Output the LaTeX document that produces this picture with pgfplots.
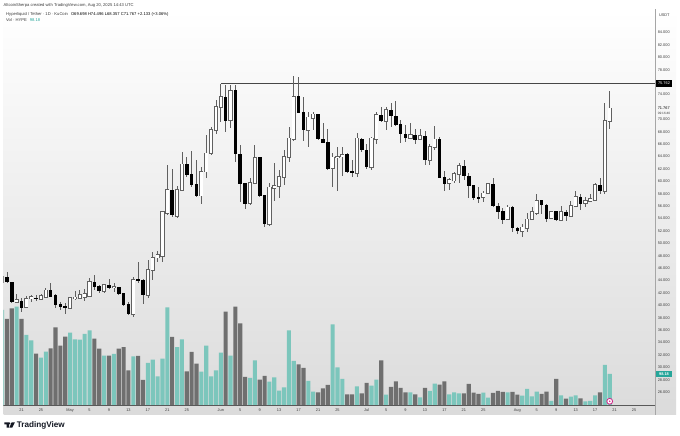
\documentclass[border=0pt]{standalone}
\usepackage{pgfplots}
\usepackage{pgfplotstable}
\usepackage{fontspec}
\setmainfont{Liberation Sans}
\pgfplotsset{compat=1.18}
\definecolor{tkgray}{HTML}{6F6F6F}
\definecolor{tkteal}{HTML}{7CC6BC}
\definecolor{tagteal}{HTML}{26A69A}
\definecolor{txt}{HTML}{3C3C3C}
\definecolor{pnl}{HTML}{DBDBDB}
\definecolor{wick}{HTML}{606060}
\definecolor{tvk}{HTML}{131722}
\newcommand{\fs}{\fontsize{3.9}{4.5}\selectfont}
\newcommand{\fh}{\fontsize{4.15}{4.8}\selectfont}
% d = days after 21 April 2025; o h l c in USDT; v in millions of HYPE
\pgfplotstableread{
d o h l c v
-4 43.76 44.56 43.27 44.56 296.3
-3 44.56 45.37 43.60 43.76 268.4
-2 43.76 43.76 40.37 40.53 301.2
-1 40.58 41.77 40.53 40.85 306.5
0 40.58 41.17 38.92 39.67 268.4
1 39.67 41.55 39.56 41.01 218.9
2 41.20 41.71 40.58 41.30 202.2
3 41.20 41.66 40.74 41.05 161.0
4 41.01 41.82 40.85 41.50 148.6
5 41.29 42.79 41.17 42.39 167.2
6 42.47 43.55 41.26 41.39 177.4
7 41.66 41.82 39.56 40.05 242.4
8 40.16 40.58 39.24 39.77 185.8
9 39.88 40.37 38.60 39.61 213.6
10 39.61 41.17 39.56 41.13 226.0
11 41.13 42.30 40.85 41.26 205.3
12 41.13 42.47 41.01 41.66 204.3
13 41.29 42.63 40.69 41.82 222.0
14 41.55 44.45 41.50 43.71 233.1
15 43.64 44.88 42.47 43.00 207.4
16 43.00 43.27 41.98 42.35 176.5
17 42.35 43.43 41.93 43.27 154.8
18 43.16 44.24 42.63 42.84 154.8
19 42.87 43.59 42.19 42.95 160.1
20 42.84 42.95 41.66 41.93 176.5
21 41.93 41.98 39.93 40.16 181.7
22 40.16 40.53 38.43 38.71 109.3
23 38.60 44.61 38.16 44.08 152.6
24 44.16 46.98 43.59 43.92 153.9
25 44.08 44.24 40.21 41.77 79.6
26 41.66 47.30 41.22 45.69 132.2
27 45.69 48.64 44.08 47.68 142.4
28 47.68 48.76 46.98 48.11 90.7
29 47.95 55.21 47.03 55.09 145.5
30 54.84 62.63 54.56 58.60 304.3
31 58.60 61.98 54.29 54.56 212.7
32 54.45 59.24 54.13 58.60 181.7
33 58.60 64.68 58.52 62.74 205.3
34 62.74 63.97 60.74 61.13 106.2
35 61.13 64.88 59.13 59.51 166.3
36 59.56 63.43 57.42 57.68 130.0
37 57.68 62.30 56.29 61.55 105.3
38 61.55 67.47 60.48 64.51 185.8
39 64.51 68.80 64.24 68.27 90.7
40 68.27 73.11 67.63 72.03 109.3
41 72.03 75.64 69.61 73.64 164.1
42 73.55 75.53 67.95 69.77 291.0
43 69.88 75.53 68.60 74.61 154.8
44 74.61 75.53 63.06 64.40 306.5
45 64.35 65.85 56.61 59.68 254.8
46 59.68 59.72 55.48 56.45 88.9
47 56.45 60.53 56.18 59.68 85.8
48 59.68 65.85 59.56 63.80 140.2
49 63.80 63.92 57.51 57.68 80.5
50 57.79 57.87 52.63 53.22 92.0
51 53.11 59.72 52.79 59.03 74.3
52 58.92 62.90 56.87 59.29 87.6
53 59.29 61.82 57.30 60.74 46.4
54 60.64 65.05 59.40 63.97 56.7
55 63.87 68.71 63.16 66.93 233.1
56 66.82 76.98 66.55 73.64 138.4
57 73.64 76.77 70.97 71.13 127.9
58 71.13 73.64 66.55 68.27 116.7
59 68.27 71.22 65.58 70.32 76.5
60 70.16 71.22 68.27 70.80 43.3
61 70.80 70.85 66.66 66.82 41.2
62 66.82 69.45 66.13 66.22 53.6
63 66.22 68.43 61.82 62.09 64.1
64 62.09 64.51 59.03 63.87 251.7
65 63.92 65.48 58.48 64.00 118.6
66 63.97 65.48 60.85 64.29 82.7
67 64.29 64.61 61.39 61.55 35.0
68 61.66 63.43 60.64 61.39 35.0
69 61.29 67.74 60.74 66.93 59.8
70 66.82 66.93 64.77 65.05 38.1
71 65.05 66.01 61.98 62.35 70.3
72 62.26 67.19 61.82 66.93 61.9
73 66.82 71.22 66.01 70.69 80.5
74 70.69 72.03 69.61 69.77 140.2
75 69.77 72.03 68.27 71.50 34.1
76 71.39 72.58 68.71 70.53 57.9
77 70.53 73.00 68.92 69.19 75.2
78 69.19 69.88 66.22 67.63 54.8
79 67.63 69.08 66.39 67.03 41.2
80 67.03 69.35 66.77 67.47 41.2
81 67.47 68.38 66.01 66.77 35.0
82 66.77 68.38 66.66 67.30 25.7
83 67.30 68.16 62.63 63.43 54.8
84 63.43 66.01 62.63 65.58 45.5
85 65.48 68.97 65.05 66.77 68.1
86 66.77 67.19 60.48 60.64 65.0
87 60.64 61.71 58.48 59.68 75.2
88 59.68 60.53 58.60 60.21 35.0
89 60.10 61.55 59.72 61.18 41.2
90 61.18 62.90 59.72 62.47 38.1
91 62.47 63.43 60.21 60.85 38.1
92 60.85 61.29 57.26 59.29 67.2
93 59.29 59.40 56.98 57.42 40.2
94 57.38 59.13 56.45 57.30 36.2
95 57.42 58.48 56.71 58.06 40.2
96 58.06 59.77 57.95 59.56 24.8
97 59.56 60.48 55.80 56.01 39.3
98 56.01 56.45 53.87 55.09 45.5
99 55.09 55.69 53.11 53.87 42.4
100 53.87 56.18 53.76 55.80 41.2
101 55.80 56.01 51.87 52.51 42.4
102 52.42 52.63 51.50 52.03 34.1
103 52.03 53.11 51.06 52.58 31.0
104 52.51 54.84 51.87 53.87 51.7
105 53.87 55.80 53.76 55.09 28.8
106 54.93 57.95 54.56 56.87 43.3
107 56.87 56.98 54.72 56.18 36.2
108 56.18 56.34 53.38 54.03 43.3
109 54.03 55.26 53.87 55.09 14.6
110 55.09 55.26 53.64 53.76 82.7
111 53.76 56.01 53.64 55.00 31.9
112 55.00 55.37 53.64 54.40 21.7
113 54.40 56.87 54.29 56.01 27.9
114 56.01 58.48 55.90 57.42 31.9
115 57.42 57.95 55.37 56.45 22.6
116 56.45 57.42 55.90 56.87 13.3
117 56.82 57.95 56.71 57.10 14.6
118 56.98 59.77 56.87 59.40 31.9
119 59.40 60.48 57.95 58.48 41.2
120 58.48 72.58 57.95 69.72 126.0
121 69.698 74.496 68.357 71.767 98.18
}\candles
\pgfplotsset{
  bull/.style={x filter/.expression={\thisrow{c}>=\thisrow{o} ? x : nan}},
  bear/.style={x filter/.expression={\thisrow{c}<\thisrow{o} ? x : nan}},
  panel/.style={
    at={(3.5bp,21bp)}, anchor=south west, scale only axis,
    width=651.5bp, height=405.5bp,
    xmin=-3.703, xmax=130.32,
    axis line style={draw=none},
    major tick length=0pt,
    tick label style={font=\fs, text=txt, inner sep=0pt},
  },
  errbar/.style={draw=none, mark=none, forget plot,
    error bars/.cd, y dir=both, y explicit, error mark=none,
    error bar style={#1}, /pgfplots/.cd},
}
\begin{document}
\begin{tikzpicture}[x=1bp,y=1bp]
\useasboundingbox (0,0) rectangle (680,436);
\fill[white] (0,0) rectangle (680,436);
\shade[top color=white, bottom color=pnl] (3.5,21) rectangle (676,426.5);
% volume
\begin{axis}[panel,
  ymin=-28.8, ymax=1226.6,
  ytick=\empty,
  xtick={0,4,10,14,18,22,26,30,34,41,45,49,53,57,61,65,71,75,79,83,87,91,95,102,106,110,114,118,122,126},
  xticklabels={21,25,May,5,9,13,17,21,25,Jun,5,9,13,17,21,25,Jul,5,9,13,17,21,25,Aug,5,9,13,17,21,25},
  xticklabel style={anchor=center, yshift=4.8bp},
]
\addplot[ybar, bar width=4.1bp, bar shift=0pt, draw=none, fill=tkteal, bull] table[x=d,y=v]{\candles};
\addplot[ybar, bar width=4.1bp, bar shift=0pt, draw=none, fill=tkgray, bear] table[x=d,y=v]{\candles};
\addplot[gray!70!black, line width=0.5bp] coordinates {(-3.703,0)(130.32,0)};
\end{axis}
% price
\begin{axis}[panel,
  ymin=22.31, ymax=87.71,
  xtick=\empty,
  ytick={26,28,30,32,34,36,38,40,42,44,46,48,50,52,54,56,58,60,62,64,66,68,70,74,78,80,82,84},
  yticklabel pos=right,
  yticklabel style={anchor=west, xshift=2.6bp,
    /pgf/number format/.cd, fixed, fixed zerofill, precision=3, assume math mode=true, 1000 sep={}},
]
\addplot[line width=1.2bp, draw=black!72] coordinates {(41,75.762)(130.32,75.762)};
\addplot[errbar={draw=wick,line width=0.7bp}] table[x=d, y expr={(\thisrow{h}+\thisrow{l})/2}, y error expr={(\thisrow{h}-\thisrow{l})/2}]{\candles};
\addplot[errbar={draw=black!62,line width=4.2bp}] table[x=d, y expr={(\thisrow{o}+\thisrow{c})/2}, y error expr={\thisrow{c}>=\thisrow{o} ? (\thisrow{c}-\thisrow{o})/2+0.13 : 0}]{\candles};
\addplot[errbar={draw=white,line width=2.6bp}] table[x=d, y expr={(\thisrow{o}+\thisrow{c})/2}, y error expr={\thisrow{c}>=\thisrow{o} ? (\thisrow{c}-\thisrow{o})/2 : 0}]{\candles};
\addplot[errbar={draw=black,line width=3.6bp}] table[x=d, y expr={(\thisrow{o}+\thisrow{c})/2}, y error expr={\thisrow{c}<\thisrow{o} ? (\thisrow{o}-\thisrow{c})/2+0.05 : 0}]{\candles};
\end{axis}
% price axis edge
\draw[black!35, line width=0.9bp] (655,21) -- (655,426.5);
\node[anchor=west, inner sep=0pt, font=\fs, text=txt] at (658.8,421) {USDT};
\node[fill=black, text=white, font=\fs, inner sep=0pt, minimum width=16bp, minimum height=6.4bp] at (664,352.4) {75.762};
\node[anchor=west, inner sep=0pt, font=\fs, text=black] at (657.6,327.6) {71.767};
\node[anchor=west, inner sep=0pt, font=\fontsize{3.2}{4}\selectfont, text=txt] at (657.6,322.8) {09:16:40};
\node[fill=tagteal, text=white, font=\fs\bfseries, inner sep=0pt, minimum width=16bp, minimum height=6.2bp] at (664,62) {98.18};
% marker on the last bar
\draw[fill=white, draw=magenta!70!violet, line width=0.8bp] (609.7,34.7) circle (2.9);
\fill[magenta!70!violet] (609.7,34.7) circle (0.9);
% header and legend
\node[anchor=west, inner sep=0pt, font=\fh, text=txt] at (3.5,431) {AltcoinSherpa created with TradingView.com, Aug 20, 2025 14:43 UTC};
\node[anchor=west, inner sep=0pt, font=\fh, text=txt] at (6,422) {Hyperliquid / Tether · 1D · KuCoin\hspace{3pt}{\color{black}O69.698 H74.496 L68.357 C71.767 +2.133 (+3.06\%)}};
\node[anchor=west, inner sep=0pt, font=\fh, text=txt] at (6,416) {Vol · HYPE\hspace{3pt}{\color{tagteal}98.18}};
% TradingView mark
\fill[tvk] (4.3,13.6) -- (9,13.6) -- (9,8.4) -- (6.6,8.4) -- (6.6,11.6) -- (4.3,11.6) -- cycle;
\fill[tvk] (9.4,12.6) circle (1.0);
\fill[tvk] (11.6,13.6) -- (14.9,13.6) -- (12.3,8.4) -- (9.4,8.4) -- cycle;
\node[anchor=west, inner sep=0pt, font=\fontsize{8.2}{9}\selectfont\bfseries, text=tvk] at (16.6,11) {TradingView};
\end{tikzpicture}
\end{document}
